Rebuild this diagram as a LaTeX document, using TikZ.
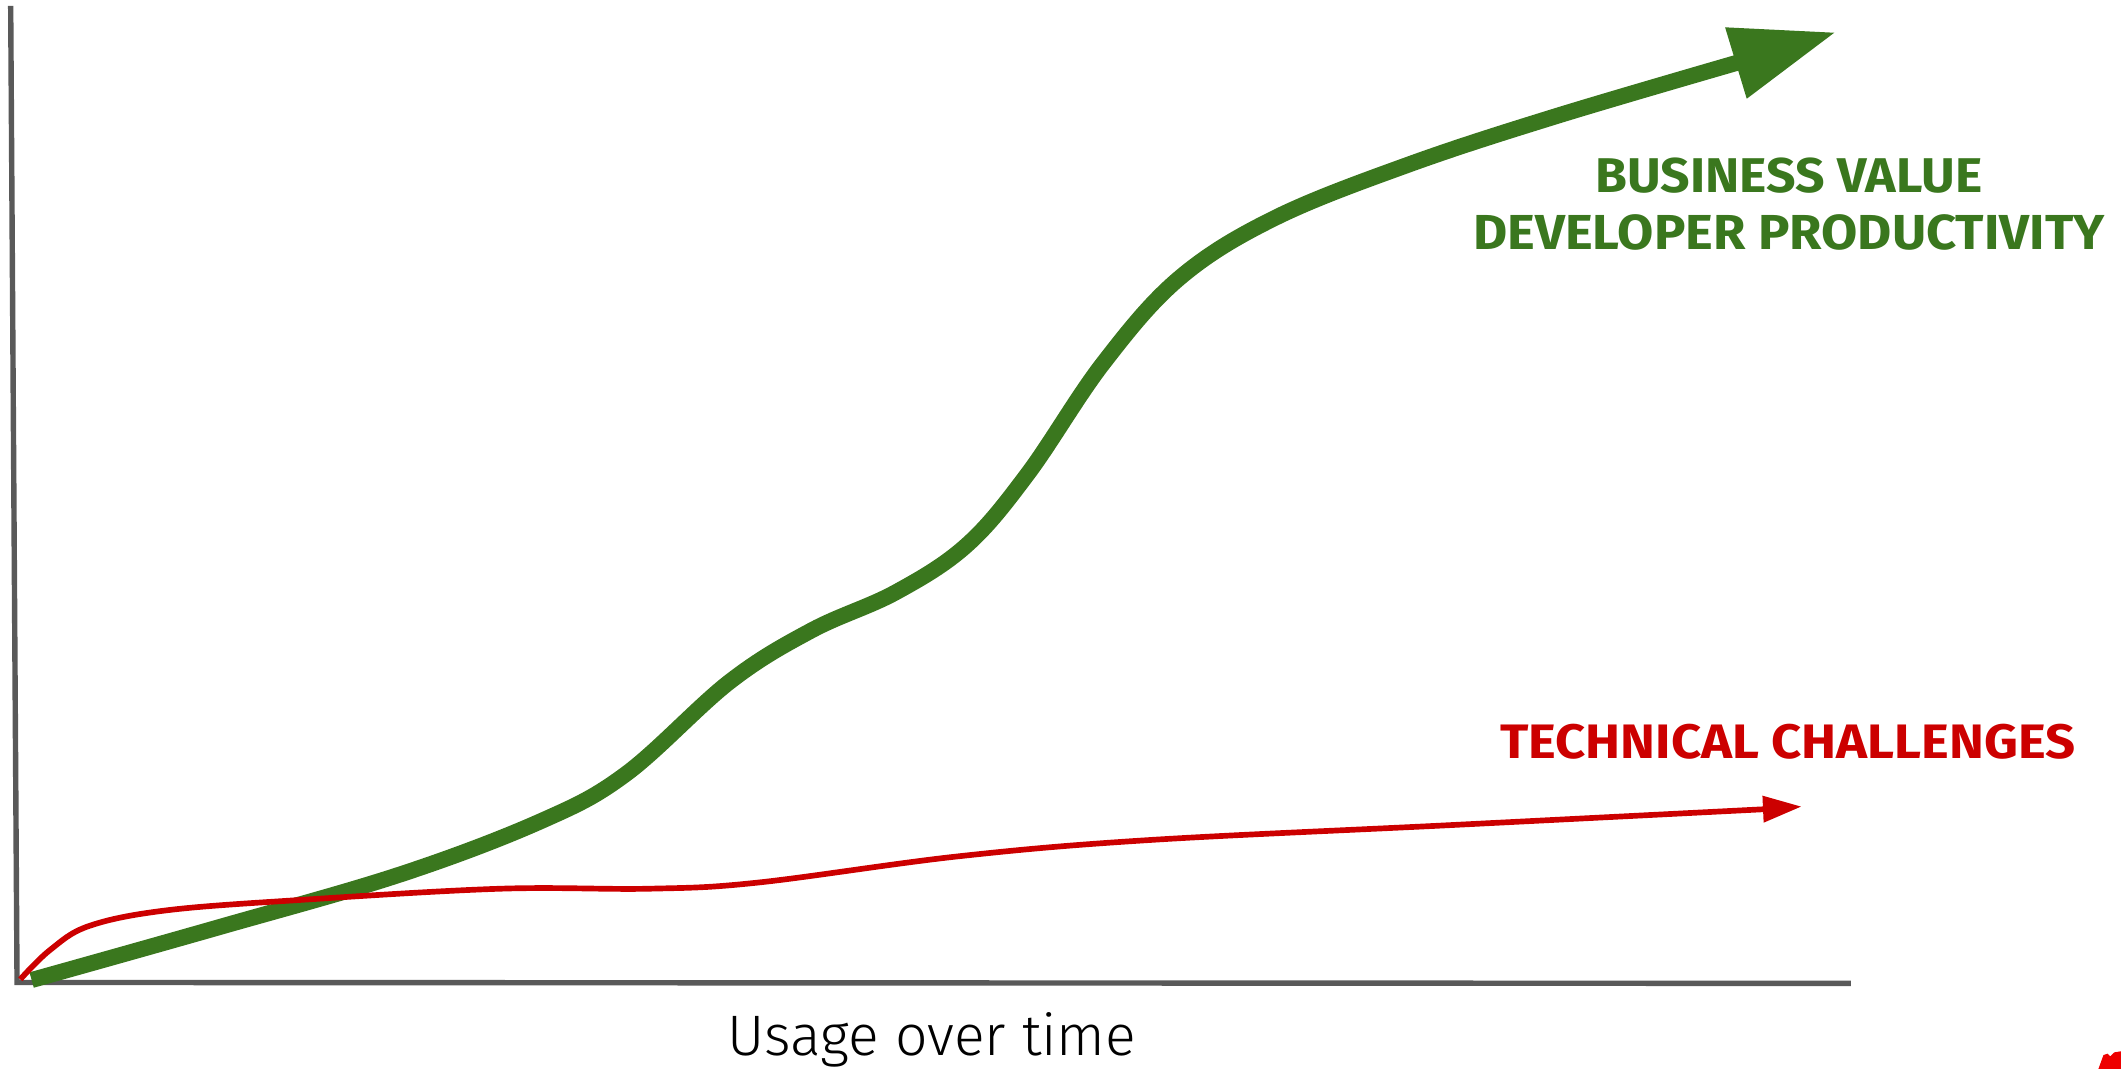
\documentclass[tikz,border=0pt]{standalone}
\usepackage{fontspec}
\setmainfont{Fira Sans}
\newfontfamily\axisfont{Fira Sans Light}
\definecolor{bvgreen}{HTML}{3A771E}
\definecolor{tcred}{HTML}{CC0000}
\definecolor{axisgray}{HTML}{595959}
\definecolor{logored}{HTML}{EE0000}
\begin{document}
\begin{tikzpicture}[x=0.5pt,y=-0.5pt,
  axisline/.style={draw=axisgray,line width=2pt,line join=miter},
  greencurve/.style={draw=bvgreen,line width=5.9pt},
  redcurve/.style={draw=tcred,line width=2.1pt},
  greentip/.style={fill=bvgreen},
  redtip/.style={fill=tcred},
  greenlabel/.style={text=bvgreen,inner sep=0pt,font=\bfseries},
  redlabel/.style={text=tcred,inner sep=0pt,font=\bfseries},
  axislabel/.style={inner sep=0pt,font=\axisfont}]
\useasboundingbox (0,0) rectangle (1568,790);
% axes
\coordinate (ytop) at (7.9,4.4);
\coordinate (origin) at (12.6,726.3);
\coordinate (xend) at (1368.2,727);
\draw[axisline] (ytop) -- (origin) -- (xend);
% green curve with arrow head
\coordinate (gtip) at (1356,24.2);
\coordinate (gc1) at (1275.3,20.2);
\coordinate (gc2) at (1291.3,73);
\draw[greencurve] plot[smooth,tension=0.6] coordinates {
 (23.4,724.5) (160,686) (295.7,646.5) (400,607) (463,572) (539.4,504)
 (600,466) (662,438) (714.7,403) (760,350) (815.5,268.6) (872,205.5)
 (942.8,161) (1041.8,121.5) (1150,86) (1284.5,46.3)};
\fill[greentip] (gtip) -- (gc1) -- (gc2) -- cycle;
% red curve with arrow head
\coordinate (rtip) at (1331.4,596.3);
\coordinate (rc1) at (1302.9,588.2);
\coordinate (rc2) at (1303.8,608.2);
\draw[redcurve] plot[smooth,tension=0.6] coordinates {
 (15,724) (37,702.3) (66,684.5) (123,673) (222,665.3) (370,657)
 (480,657) (560,652.5) (709,633) (850,621) (1072,610) (1305,598.2)};
\fill[redtip] (rtip) -- (rc1) -- (rc2) -- cycle;
% labels
\node[greenlabel] (bv) at (1322.6,129.7) {\resizebox{143pt}{12.8pt}{BUSINESS VALUE}};
\node[greenlabel] (dp) at (1322.6,172) {\resizebox{233.3pt}{12.9pt}{DEVELOPER PRODUCTIVITY}};
\node[redlabel] (tc) at (1321.7,548.7) {\resizebox{212.7pt}{12.7pt}{TECHNICAL CHALLENGES}};
\node[axislabel,anchor=base] (usage) at (689,780) {\resizebox{151pt}{!}{Usage over time}};
% logo fragment at the corner
\fill[logored] (1551,791) -- (1555,780) -- (1558,779) -- (1560,781) -- (1563,778) -- (1569,777) -- (1569,791) -- cycle;
\end{tikzpicture}
\end{document}
